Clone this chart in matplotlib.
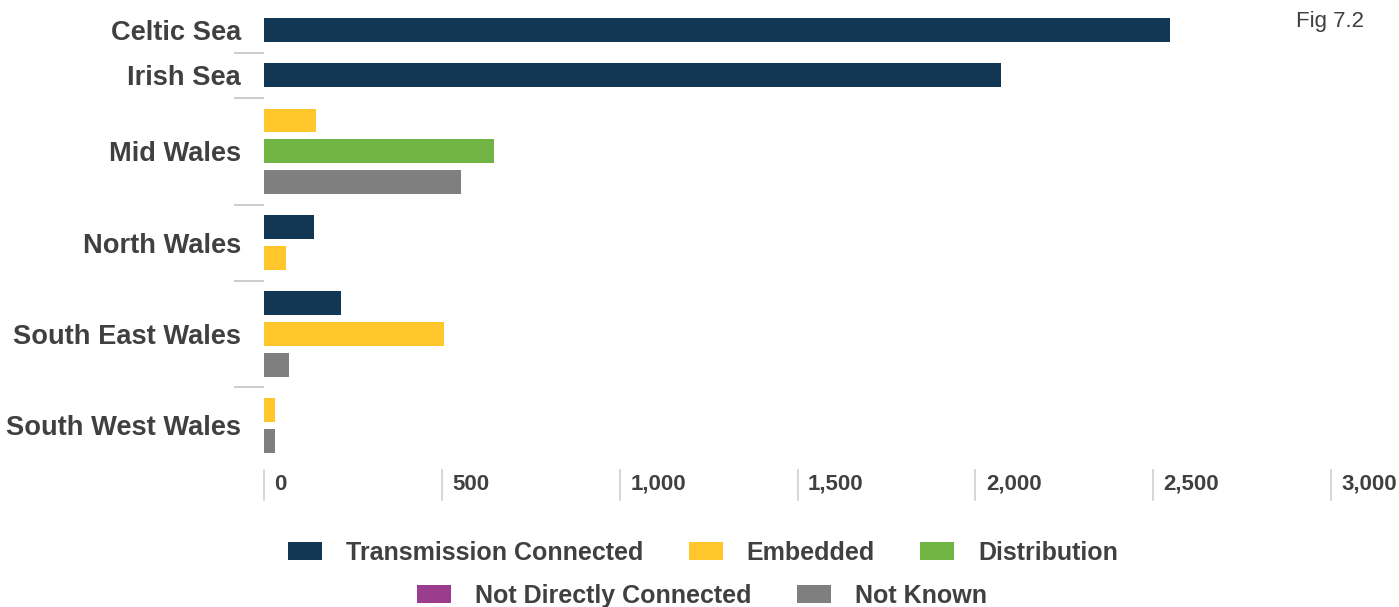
import matplotlib
matplotlib.use("Agg")
import matplotlib.pyplot as plt
from matplotlib.patches import Patch

plt.rcParams['font.family'] = ['Liberation Sans', 'DejaVu Sans']

# Capacity by region and connection type (MW)
regions = ["Celtic Sea", "Irish Sea", "Mid Wales", "North Wales",
           "South East Wales", "South West Wales"]
series_names = ["Transmission Connected", "Embedded", "Distribution",
                "Not Directly Connected", "Not Known"]
transmission = [2548, 2073, 0, 141, 217, 0]
embedded = [0, 0, 146, 62, 506, 31]
distribution = [0, 0, 647, 0, 0, 0]
not_direct = [0, 0, 0, 0, 0, 0]
not_known = [0, 0, 554, 0, 70, 31]
x_ticks = [0, 500, 1000, 1500, 2000, 2500, 3000]

colors = ["#123755", "#FFC72C", "#70B544", "#9B3D8F", "#7F7F7F"]
text_color = "#404040"
rule_color = "#D0D0D0"

series = [transmission, embedded, distribution, not_direct, not_known]

W, H = 1399, 607
fig = plt.figure(figsize=(W / 100, H / 100), dpi=100)
# axes in pixel-like units: x spans the value scale, y runs downwards
ax_top, ax_bot = 0, 505
ax = fig.add_axes([264 / W, (H - ax_bot) / H, (1331 - 264) / W, (ax_bot - ax_top) / H])
ax.set_xlim(0, 3000)
ax.set_ylim(ax_bot, ax_top)
for s in ax.spines.values():
    s.set_visible(False)

# stack only the non-empty bars of each region
bar_step, group_gap, bar_h = 30.8, 45.2, 23.5
y = 30.0
group_centers, group_edges = [], []
first = True
for i, reg in enumerate(regions):
    ys = []
    for k, vals in enumerate(series):
        if vals[i] > 0:
            if not first:
                y += bar_step if ys else group_gap
            first = False
            ax.barh(y, vals[i], height=bar_h, color=colors[k], left=0)
            ys.append(y)
    group_centers.append((ys[0] + ys[-1]) / 2)
    group_edges.append((ys[0], ys[-1]))

# short separators between regions
px = 3000 / (1331 - 264)
for (a0, a1), (b0, b1) in zip(group_edges[:-1], group_edges[1:]):
    ax.plot([-30 * px, 0], [(a1 + b0) / 2] * 2, color="#C8C8C8", lw=1.3,
            clip_on=False, solid_capstyle="butt")

ax.set_yticks(group_centers)
ax.set_yticklabels(regions, fontsize=19.6, fontweight="bold", color=text_color)
ax.tick_params(axis="y", length=0, pad=16.5)

# value axis: thin rules with labels on their right
ax.set_xticks([])
for t in x_ticks:
    ax.plot([t, t], [470, 500], color=rule_color, lw=1.2, clip_on=False)
    ax.text(t + 10.5 * px, 484, f"{t:,}", fontsize=16, fontweight="bold",
            color=text_color, ha="left", va="center", clip_on=False)

fig.text(1296 / W, 1 - 22 / H, "Fig 7.2", fontsize=16, color=text_color,
         ha="left", va="center")

handles = [Patch(facecolor=c, edgecolor="none") for c in colors]
leg_kw = dict(frameon=False, handlelength=1.36, handleheight=0.72,
              handletextpad=0.96, columnspacing=1.8, borderpad=0,
              prop={"size": 18, "weight": "bold"}, labelcolor=text_color)
fig.legend(handles[:3], series_names[:3], ncol=3, loc="center",
           bbox_to_anchor=(703 / W, 1 - 553 / H), **leg_kw)
fig.legend(handles[3:], series_names[3:], ncol=2, loc="center",
           bbox_to_anchor=(702 / W, 1 - 596 / H), **leg_kw)

fig.savefig("out.png", dpi=100)
